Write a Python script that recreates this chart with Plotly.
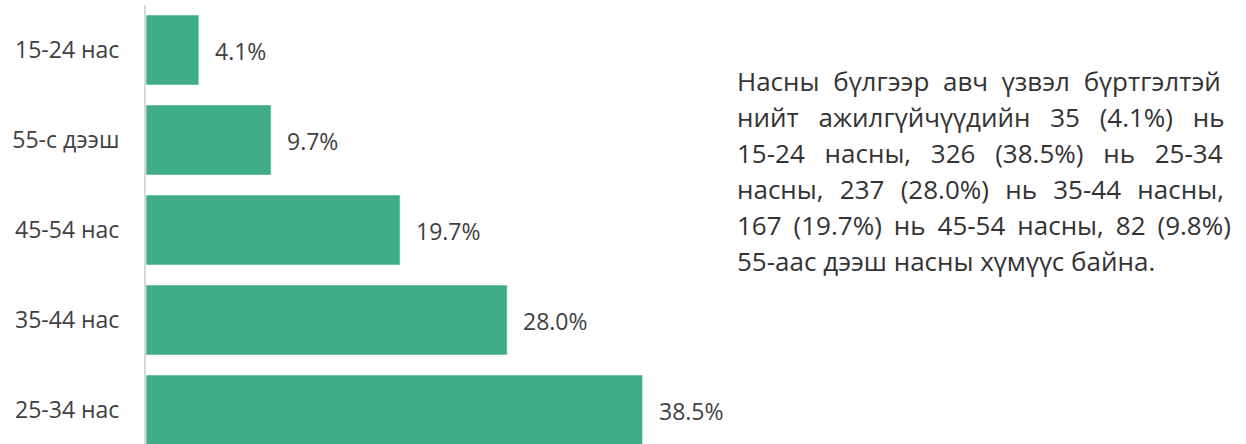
import plotly.graph_objects as go

categories = ["15-24 нас", "55-с дээш", "45-54 нас", "35-44 нас", "25-34 нас"]
values = [4.1, 9.7, 19.7, 28.0, 38.5]
labels = ["4.1%", "9.7%", "19.7%", "28.0%", "38.5%"]

para_words = [
    ["Насны", "бүлгээр", "авч", "үзвэл", "бүртгэлтэй"],
    ["нийт", "ажилгүйчүүдийн", "35", "(4.1%)", "нь"],
    ["15-24", "насны,", "326", "(38.5%)", "нь", "25-34"],
    ["насны,", "237", "(28.0%)", "нь", "35-44", "насны,"],
    ["167", "(19.7%)", "нь", "45-54", "насны,", "82", "(9.8%)"],
    ["55-аас", "дээш", "насны", "хүмүүс", "байна."],
]
gaps = [
    " \u2009\u200a",
    " \u2002",
    " \u2002",
    " \u2009\u200a\u200a",
    " \u200a\u200a",
    " ",
]

FONT = "Open Sans"
BAR = "#3fad88"
TXT = "#404040"

W, H = 1246, 444
ML, MT, MB, MR = 146, 5, 0, 0
pw = W - ML - MR
ph = H - MT - MB

fig = go.Figure()
fig.add_trace(go.Bar(
    y=categories, x=values, orientation="h",
    marker=dict(color=BAR, line=dict(color="rgba(255,255,255,0.6)", width=1)),
    width=0.78, hoverinfo="skip",
))

for c, v, t in zip(categories, values, labels):
    fig.add_annotation(x=v, y=c, xref="x", yref="y", text=t, showarrow=False,
                       xanchor="left", yanchor="middle", xshift=14, yshift=-1,
                       font=dict(family=FONT, size=23, color=TXT))

x0 = (735 - ML) / pw
for i, (words, g) in enumerate(zip(para_words, gaps)):
    yc = 81 + 36 * i
    fig.add_annotation(x=x0, y=(H - MB - yc) / ph, xref="paper", yref="paper",
                       text=g.join(words), showarrow=False, xanchor="left",
                       yanchor="middle", align="left",
                       font=dict(family=FONT, size=26, color="#333333"))

fig.update_layout(
    width=W, height=H,
    margin=dict(l=ML, r=MR, t=MT, b=MB, pad=0),
    paper_bgcolor="white", plot_bgcolor="white",
    showlegend=False,
    xaxis=dict(domain=[0, 0.5], range=[0, 550 / 12.9], visible=False, fixedrange=True),
    yaxis=dict(categoryorder="array", categoryarray=categories,
               range=[-0.5 + ph / 90, -0.5], showline=True, linecolor="#d9d9d9",
               linewidth=2, ticks="", showgrid=False, zeroline=False,
               ticklabelstandoff=20,
               tickfont=dict(family=FONT, size=23, color=TXT), fixedrange=True),
    bargap=0.22,
)

fig.write_html("out.html", config={"displayModeBar": False})
